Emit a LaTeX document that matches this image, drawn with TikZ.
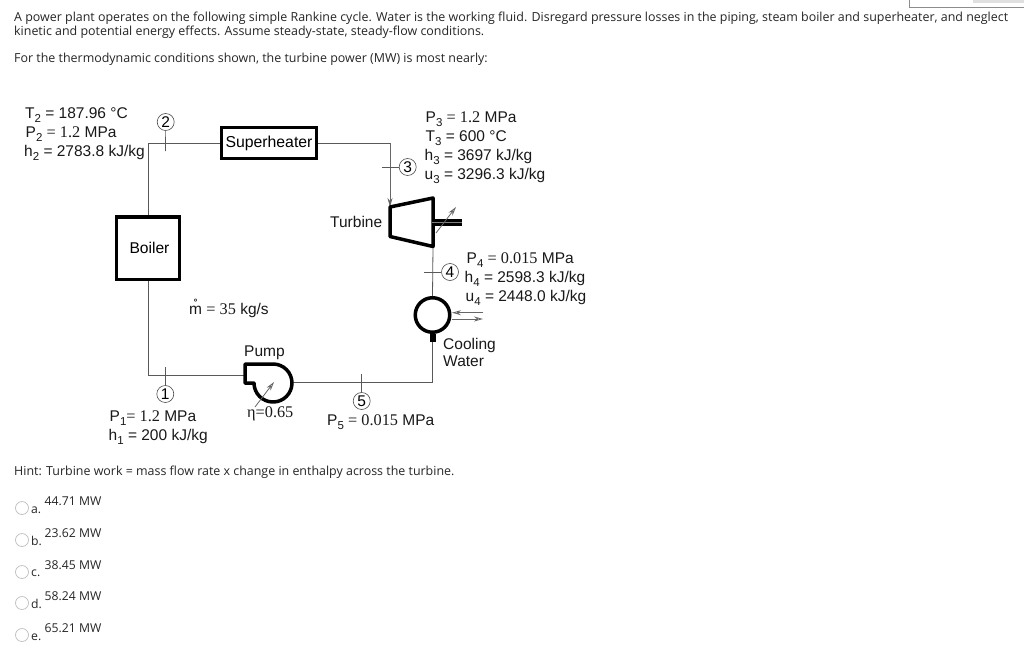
\documentclass[tikz,border=0pt]{standalone}
\usepackage{fontspec}
\setmainfont{Liberation Sans}
\newfontfamily\osans{Open Sans}
\newfontfamily\tnr[Scale=1.05]{Liberation Serif}
\usetikzlibrary{arrows.meta}
\newcommand{\sbs}[1]{\raisebox{-0.27em}{\fontsize{11.5}{11.5}\selectfont #1}}
\newcommand{\srf}[1]{{\tnr #1}}
\tikzset{
  x=1pt,y=-1pt,
  pipe/.style={draw=black!65,line width=0.8pt},
  tick/.style={draw=black!65,line width=0.7pt},
  eq/.style={line width=3.5pt,draw=black},
  unit/.style={eq,fill=white,inner sep=0pt,font=\fontsize{15.6}{15.6}\selectfont},
  numc/.style={circle,draw=black!70,line width=0.6pt,minimum size=17pt,inner sep=0pt,font=\fontsize{15.5}{15.5}\selectfont},
  lab/.style={anchor=base west,inner sep=0pt,font=\fontsize{15.5}{15.5}\selectfont,text=black!90},
  plain/.style={anchor=base west,inner sep=0pt,font=\osans\fontsize{12.44}{12.44}\selectfont,text=black!85},
  opt/.style={anchor=base west,inner sep=0pt,font=\osans\fontsize{12.2}{12.2}\selectfont,text=black!85},
  radio/.style={circle,draw=black!25,fill=white,line width=0.7pt,minimum size=13pt,inner sep=0pt},
  sarrow/.style={draw=black!60,line width=0.8pt,-{Stealth[open,length=9pt,width=5pt]}},
}
\begin{document}
\begin{tikzpicture}
\useasboundingbox (0,0) rectangle (1024,669);
\fill[white] (0,0) rectangle (1024,669);
% top-right fragment
\fill[black!12] (973,0) rectangle (1024,3);
\draw[black!45,line width=0.6pt] (909.5,0) -- (909.5,7) -- (1024,7);
% question text
\node[plain] (q1) at (14,21.7) {A power plant operates on the following simple Rankine cycle. Water is the working fluid. Disregard pressure losses in the piping, steam boiler and superheater, and neglect};
\node[plain] (q2) at (14,35.7) {kinetic and potential energy effects. Assume steady-state, steady-flow conditions.};
\node[plain] (q3) at (14,62.7) {For the thermodynamic conditions shown, the turbine power (MW) is most nearly:};
% coordinates
\coordinate (c23) at (390,143);
\coordinate (tin) at (390,207);
\coordinate (tin2) at (433,198);
\coordinate (tout) at (433,246.5);
\coordinate (tout2) at (390,236.5);
\coordinate (shaftA) at (432,222.5);
\coordinate (shaftB) at (461.5,222.5);
\coordinate (wA) at (436,233);
\coordinate (wB) at (456,207);
\coordinate (c5) at (432.5,382);
\coordinate (pumpout) at (290,382);
\coordinate (pumpin) at (247,375.7);
\coordinate (c1) at (148,375.7);
\coordinate (t2) at (165.5,151);
\coordinate (t3) at (382,167);
\coordinate (t4) at (424,272);
\coordinate (t5) at (361.7,374);
\coordinate (t1) at (165.3,367);
\coordinate (stubT) at (432.5,334);
\coordinate (stubB) at (432.5,342);
\coordinate (cwA) at (483,312.7);
\coordinate (cwB) at (452,312.7);
\coordinate (cwC) at (452,319);
\coordinate (cwD) at (483,319);
\coordinate (pA) at (255,407);
\coordinate (pB) at (274,382);
% equipment
\node[unit,minimum width=63pt,minimum height=62.5pt] (boiler) at (148,248) {\hspace*{3pt}\raisebox{1pt}{Boiler}};
\node[unit,minimum width=95pt,minimum height=31pt,font=\fontsize{15.8}{15.8}\selectfont] (super) at (269,143) {Superheater};
\node[circle,draw=black,line width=3.5pt,minimum size=34.5pt,inner sep=0pt] (cond) at (432.5,315) {};
% pipes
\draw[pipe] (boiler.north) |- (super.west);
\draw[pipe] (super.east) -- (c23);
\draw[draw=black!60,line width=0.8pt,-{Stealth[length=9pt,width=5pt]}] (c23) -- (tin);
\draw[pipe] (tout) -- (cond.north);
\draw[pipe] (stubB) -- (c5) -- (pumpout);
\draw[pipe] (pumpin) -- (c1) -- (boiler.south);
% turbine
\draw[eq,line join=round] (tin) -- (tin2) -- (tout) -- (tout2) -- cycle;
\draw[line width=6.5pt,black] (shaftA) -- (shaftB);
\draw[black!50,line width=0.7pt] (shaftA) -- (shaftB);
\draw[sarrow] (wA) -- (wB);
% condenser
\draw[black,line width=6pt] (stubT) -- (stubB);
\draw[sarrow] (cwA) -- (cwB);
\draw[sarrow] (cwC) -- (cwD);
% pump
\draw[eq,line join=round,fill=white] (245,364) -- (273,364) arc[start angle=-90,end angle=180,radius=19] -- (245,383) -- cycle;
\draw[sarrow] (pA) -- (pB);
% state circles
\node[numc] (n2) at (165.7,122) {2};
\node[numc] (n3) at (407.7,167) {3};
\node[numc] (n4) at (450,272) {4};
\node[numc] (n5) at (361.7,401) {5};
\node[numc] (n1) at (165.3,394) {1};
\draw[tick] (n2) -- (t2);
\draw[tick] (n3) -- (t3);
\draw[tick] (n4) -- (t4);
\draw[tick] (n5) -- (t5);
\draw[tick] (n1) -- (t1);
% labels
\node[lab] (l2a) at (25,118) {T\sbs{2} = 187.96 °C};
\node[lab] (l2b) at (25.5,137) {P\sbs{2} \srf{= 1.2} MPa};
\node[lab] (l2c) at (24,156) {h\sbs{2} = 2783.8 kJ/kg};
\node[lab] (l3a) at (425.5,122) {P\sbs{3} \srf{= 1.2} MPa};
\node[lab] (l3b) at (425.5,141) {T\sbs{3} = 600 °C};
\node[lab] (l3c) at (424.5,160) {h\sbs{3} = 3697 kJ/kg};
\node[lab] (l3d) at (424.5,179) {u\sbs{3} = 3296.3 kJ/kg};
\node[lab] (lturb) at (330,227) {Turbine};
\node[lab] (l4a) at (466.5,263) {P\sbs{4} \srf{= 0.015} MPa};
\node[lab] (l4b) at (464.5,282) {h\sbs{4} = 2598.3 kJ/kg};
\node[lab] (l4c) at (465.5,301) {u\sbs{4} = 2448.0 kJ/kg};
\node[lab] (lm) at (189,314) {\r{m} \srf{= 35} kg/s};
\node[lab] (lcw1) at (443,349) {Cooling};
\node[lab] (lcw2) at (443,366) {Water};
\node[lab] (lpump) at (244,356) {Pump};
\node[lab] (leta) at (247,417) {\srf{η=0.65}};
\node[lab] (l1a) at (109.5,421) {P\sbs{1}\srf{= 1.2} MPa};
\node[lab] (l1b) at (108.5,440) {h\sbs{1} = 200 kJ/kg};
\node[lab] (l5) at (327,425) {P\sbs{5} \srf{= 0.015} MPa};
% hint
\node[plain] (hint) at (14,475.7) {Hint: Turbine work = mass flow rate x change in enthalpy across the turbine.};
% options
\node[radio] (ra) at (22,508) {};
\node[radio] (rb) at (22,540) {};
\node[radio] (rc) at (22,572) {};
\node[radio] (rd) at (22,603) {};
\node[radio] (re) at (22,635) {};
\node[opt] (la) at (31,513) {a.};
\node[opt] (lb) at (31,545) {b.};
\node[opt] (lc) at (31,576) {c.};
\node[opt] (ld) at (31,608) {d.};
\node[opt] (le) at (31,640) {e.};
\node[opt] (va) at (44.5,505) {44.71 MW};
\node[opt] (vb) at (44.5,537) {23.62 MW};
\node[opt] (vc) at (44.5,569) {38.45 MW};
\node[opt] (vd) at (44.5,600) {58.24 MW};
\node[opt] (ve) at (44.5,632) {65.21 MW};
\end{tikzpicture}
\end{document}
